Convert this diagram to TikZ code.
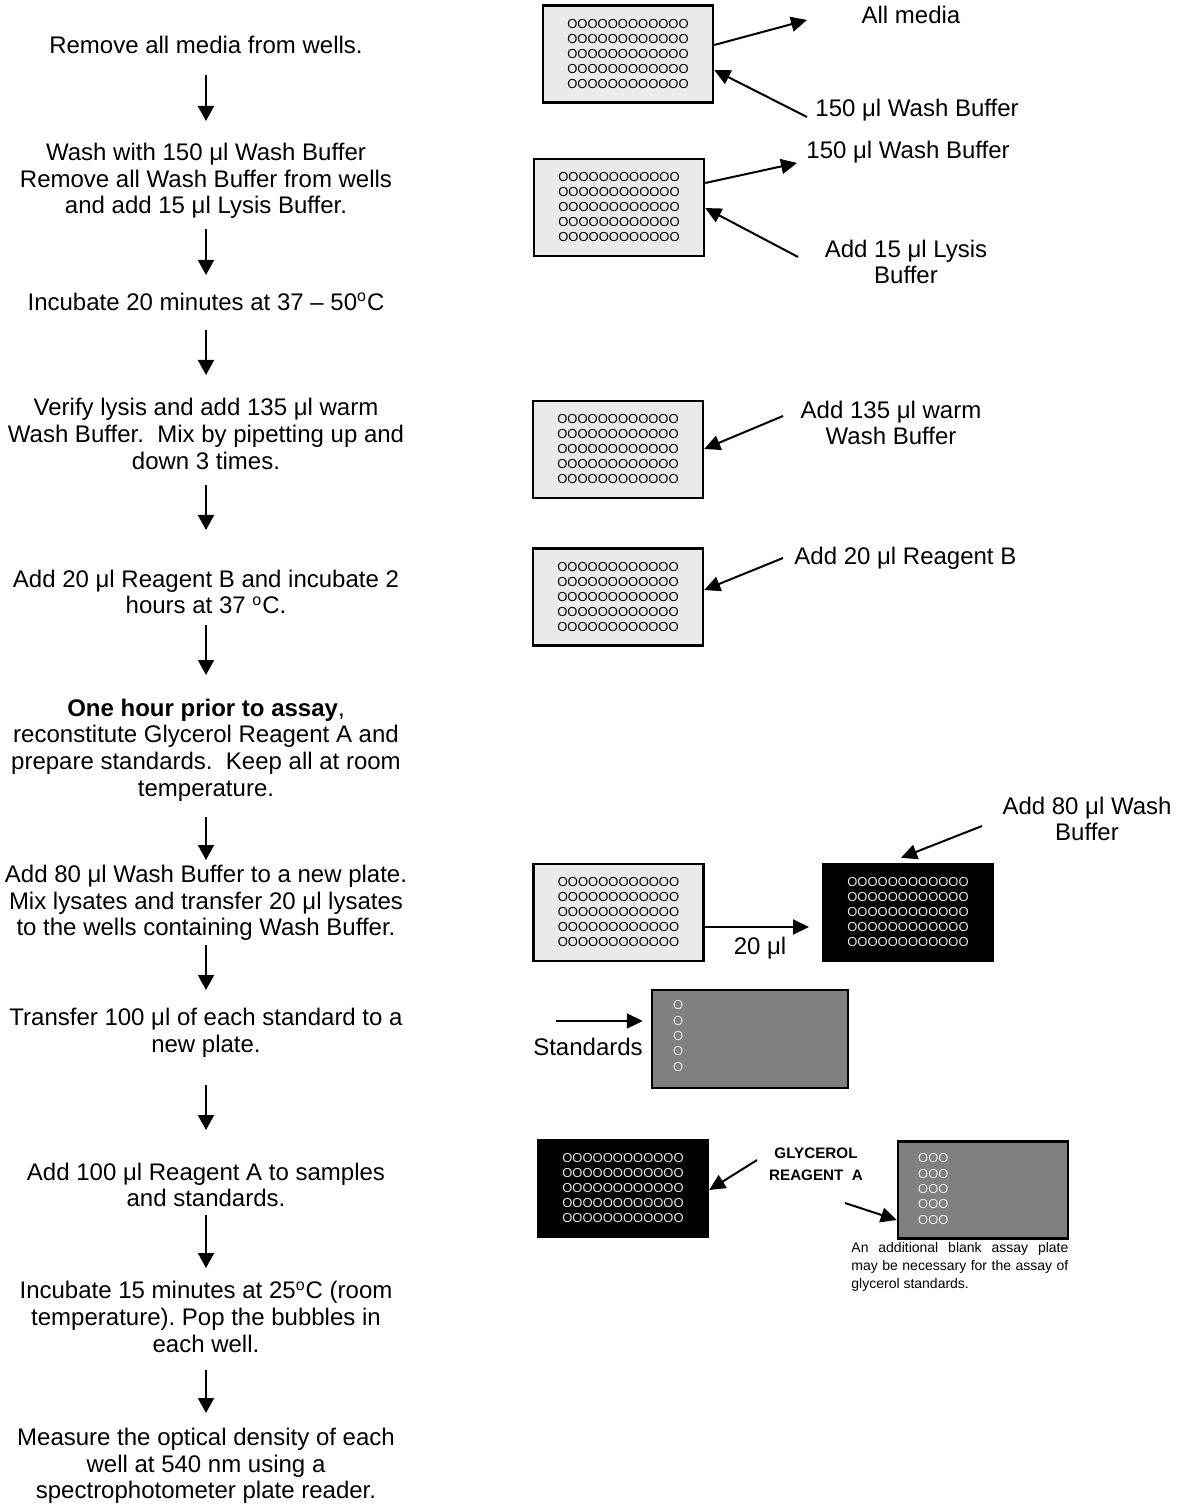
\documentclass[tikz,border=0pt]{standalone}
\usepackage{fontspec}
\setmainfont{Liberation Sans}
\usetikzlibrary{arrows.meta,calc}
\definecolor{platelight}{HTML}{EAEAEA}
\definecolor{plategray}{HTML}{808080}
\definecolor{wellwhite}{HTML}{E6E6E6}
\newcommand\wrow{OOOOOOOOOOOO}
\newcommand\wellsfull{\wrow\\\wrow\\\wrow\\\wrow\\\wrow}
\newcommand\degc{\textsuperscript{o}C}
\frenchspacing
\begin{document}
\begin{tikzpicture}[x=0.5pt,y=-0.5pt,
  stepnode/.style={font=\fontsize{12pt}{13.3pt}\selectfont, align=center, inner sep=0pt},
  lab/.style={font=\fontsize{12pt}{13.3pt}\selectfont, align=center, inner sep=0pt},
  flow/.style={-{Triangle[width=8pt,length=7.5pt]}, line width=1pt},
  ptr/.style={-{Triangle[width=7.5pt,length=8pt]}, line width=1pt},
  plate/.style={draw, line width=1.2pt, minimum width=85pt, minimum height=48.5pt, inner sep=0pt,
    font=\fontsize{6.5pt}{7.5pt}\selectfont, align=left},
  lightplate/.style={plate, fill=platelight, text=black},
  darkplate/.style={plate, fill=black, text=wellwhite},
  grayplate/.style={plate, fill=plategray},
  wells/.style={font=\fontsize{6.5pt}{7.7pt}\selectfont, align=left, inner sep=0pt, text=wellwhite},
]
\useasboundingbox (0,0) rectangle (1182,1507);

% ---------- left column ----------
\node[stepnode] (s1) at (206,45) {Remove all media from wells.};
\node[stepnode] (s2) at (206,181) {Wash with 150 μl Wash Buffer\\Remove all Wash Buffer from wells\\and add 15 μl Lysis Buffer.};
\node[stepnode] (s3) at (206,302) {Incubate 20 minutes at 37 – 50\degc};
\node[stepnode] (s4) at (206,434) {Verify lysis and add 135 μl warm\\Wash Buffer.~ Mix by pipetting up and\\down 3 times.};
\node[stepnode] (s5) at (206,592) {Add 20 μl Reagent B and incubate 2\\hours at 37 \degc.};
\node[stepnode] (s6) at (206,750) {\textbf{One hour prior to assay},\\reconstitute Glycerol Reagent A and\\prepare standards.~ Keep all at room\\temperature.};
\node[stepnode] (s7) at (206,903) {Add 80 μl Wash Buffer to a new plate.\\Mix lysates and transfer 20 μl lysates\\to the wells containing Wash Buffer.};
\node[stepnode] (s8) at (206,1033) {Transfer 100 μl of each standard to a\\new plate.};
\node[stepnode] (s9) at (206,1185) {Add 100 μl Reagent A to samples\\and standards.};
\node[stepnode] (s10) at (206,1317) {Incubate 15 minutes at 25\degc{} (room\\temperature). Pop the bubbles in\\each well.};
\node[stepnode] (s11) at (206,1466) {Measure the optical density of each\\well at 540 nm using a\\spectrophotometer plate reader.};

\draw[flow] (s1.south |- 0,75) -- (s2.north |- 0,121);
\draw[flow] (s2.south |- 0,229) -- (s3.north |- 0,275);
\draw[flow] (s3.south |- 0,330) -- (s4.north |- 0,375);
\draw[flow] (s4.south |- 0,485) -- (s5.north |- 0,530);
\draw[flow] (s5.south |- 0,625) -- (s6.north |- 0,675);
\draw[flow] (s6.south |- 0,817) -- (s7.north |- 0,860);
\draw[flow] (s7.south |- 0,945) -- (s8.north |- 0,990);
\draw[flow] (s8.south |- 0,1085) -- (s9.north |- 0,1130);
\draw[flow] (s9.south |- 0,1215) -- (s10.north |- 0,1268);
\draw[flow] (s10.south |- 0,1370) -- (s11.north |- 0,1413);

% ---------- plates ----------
\node[lightplate] (p1) at (628,54) {\wellsfull};
\node[lightplate] (p2) at (619,207.5) {\wellsfull};
\node[lightplate] (p3) at (618,449.5) {\wellsfull};
\node[lightplate] (p4) at (618,597) {\wellsfull};
\node[lightplate] (p5) at (618.5,912.5) {\wellsfull};
\node[darkplate] (p6) at (908,912.5) {\wellsfull};
\node[grayplate, minimum width=98pt, minimum height=49pt] (p7) at (750,1039) {};
\node[wells, anchor=west] (w7) at ($(p7.west)+(22,-3)$) {O\\O\\O\\O\\O};
\node[darkplate] (p8) at (623,1188.5) {\wellsfull};
\node[grayplate] (p9) at (983,1190) {};
\node[wells, anchor=west] (w9) at ($(p9.west)+(21,-1)$) {OOO\\OOO\\OOO\\OOO\\OOO};

% ---------- right labels ----------
\node[lab] (lAll) at (911,15) {All media};
\node[lab, anchor=west] (lW1) at (815,110) {150 μl Wash Buffer};
\node[lab, anchor=west] (lW2) at (806,152) {150 μl Wash Buffer};
\node[lab] (lLys) at (906,262) {Add 15 μl Lysis\\Buffer};
\node[lab] (l135) at (891,423) {Add 135 μl warm\\Wash Buffer};
\node[lab, anchor=west] (lB) at (794,558) {Add 20 μl Reagent B};
\node[lab] (l80) at (1087,819) {Add 80 μl Wash\\Buffer};
\node[lab] (l20) at (760,948) {20 μl};
\node[lab] (lStd) at (588,1047) {Standards};
\node[font=\bfseries\fontsize{7.6pt}{11pt}\selectfont, align=center, inner sep=0pt] (lGly) at (816,1164) {GLYCEROL\\REAGENT~ A};
\node[font=\fontsize{7pt}{9pt}\selectfont, text width=108.5pt, align=justify, inner sep=0pt, anchor=north west] (cap) at (851,1242)
  {An additional blank assay plate\linebreak may be necessary for the assay of\linebreak glycerol standards.};

% ---------- right connectors ----------
\coordinate (c1) at (807,20);
\coordinate (c2) at (807,117);
\coordinate (c3) at (797,163);
\coordinate (c4) at (798,257);
\coordinate (c5) at (783,416);
\coordinate (c6) at (783,558);
\coordinate (c7) at (809,927);
\coordinate (c8) at (982,826);
\coordinate (c9) at (556,1021);
\coordinate (c10) at (757,1160);
\coordinate (c11) at (845,1203);

\draw[ptr] (p1.east |- 0,45) -- (c1);
\draw[ptr] (c2) -- (p1.east |- 0,70);
\draw[ptr] (p2.east |- 0,183) -- (c3);
\draw[ptr] (c4) -- (p2.east |- 0,208);
\draw[ptr] (c5) -- (p3.east |- 0,449);
\draw[ptr] (c6) -- (p4.east |- 0,590);
\draw[ptr] (p5.east |- 0,927) -- (c7);
\draw[ptr] (c8) -- ($(p6.north)+(-7,-5)$);
\draw[ptr, shorten >=4pt] (c9) -- (p7.west |- 0,1021);
\draw[ptr] (c10) -- (p8.east |- 0,1190);
\draw[ptr] (c11) -- (p9.west |- 0,1220);
\end{tikzpicture}
\end{document}
